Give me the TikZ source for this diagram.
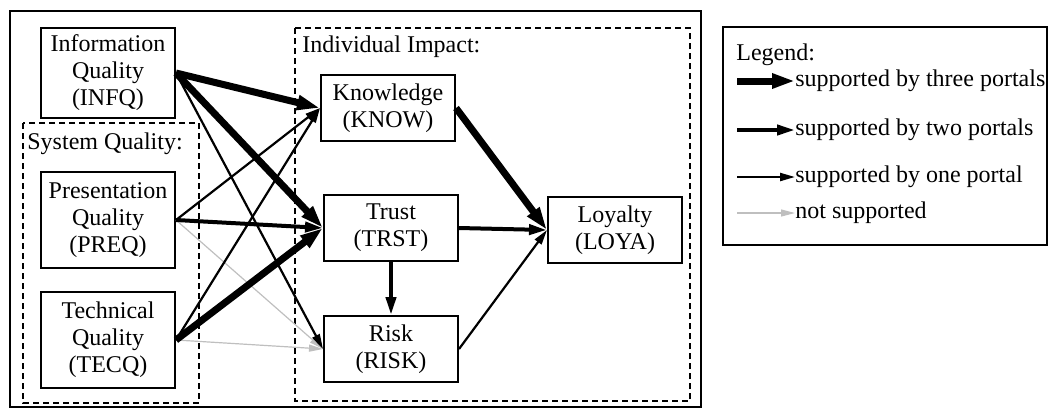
\documentclass[tikz,border=0pt]{standalone}
\usepackage{fontspec}
\setmainfont{Liberation Serif}
\usetikzlibrary{arrows.meta}
\tikzset{
  box/.style={draw=black,line width=1pt,align=center,inner sep=0pt,minimum width=67pt}, % construct
  tall/.style={box,minimum height=48pt},                      % three-line construct
  flat/.style={box,minimum height=33pt},                      % two-line construct
  group/.style={draw=black,line width=1pt,dash pattern=on 3pt off 2pt},
  lbl/.style={anchor=west,inner sep=0pt},
  sup3/.style={-{Triangle[length=11.5pt,width=7pt]},line width=3.5pt},
  sup2/.style={-{Triangle[length=9pt,width=5pt]},line width=2pt},
  sup1/.style={-{Triangle[length=7.5pt,width=4pt]},line width=1.1pt},
  sup0/.style={-{Triangle[length=7pt,width=3.5pt]},line width=0.6pt,black!25},
}

\begin{document}
\begin{tikzpicture}[x=0.5pt,y=-0.5pt,font=\rmfamily\fontsize{12}{13.5}\selectfont]
  \useasboundingbox (0,0) rectangle (1049,408);
  % frames
  \draw[line width=1pt] (10,11) rectangle (701,407);
  \draw[group] (23,123) rectangle (199,403);
  \draw[group] (295,28) rectangle (690,401);
  \node[lbl] (sysq) at (27,144) {System Quality:};
  \node[lbl] (indi) at (302,47) {Individual Impact:};
  % constructs
  \node[box,minimum height=45pt] (infq) at (108,73) {Information\\Quality\\(INFQ)};
  \node[tall] (preq) at (108,220) {Presentation\\Quality\\(PREQ)};
  \node[tall] (tecq) at (108,340) {Technical\\Quality\\(TECQ)};
  \node[flat] (know) at (388,108) {Knowledge\\(KNOW)};
  \node[flat] (trst) at (391,228) {Trust\\(TRST)};
  \node[flat] (risk) at (391,349) {Risk\\(RISK)};
  \node[flat] (loya) at (615,230) {Loyalty\\(LOYA)};
  % paths
  \draw[sup0] (preq.east) -- (risk.west);
  \draw[sup0] (tecq.east) -- (risk.west);
  \foreach \a/\b in {infq/risk,preq/know,tecq/know,risk/loya} \draw[sup1] (\a.east) -- (\b.west);
  \foreach \a/\b in {preq/trst,trst/loya} \draw[sup2] (\a.east) -- (\b.west);
  \draw[sup2] (trst.south) -- (risk.north);
  \foreach \a/\b in {infq/know,infq/trst,tecq/trst,know/loya} \draw[sup3] (\a.east) -- (\b.west);
  % legend
  \draw[line width=1pt] (723,27) rectangle (1047,245);
  \node[lbl] (leg) at (736,55) {Legend:};
  \foreach \s/\y/\t in {3/81/supported by three portals,2/130/supported by two portals,
                        1/177/supported by one portal,0/213/not supported}{
    \coordinate (l\s) at (737,\y);
    \node[lbl] (t\s) at (795,\y) {\t};
    \draw[sup\s] (l\s) -- (t\s.west);
  }
\end{tikzpicture}
\end{document}
